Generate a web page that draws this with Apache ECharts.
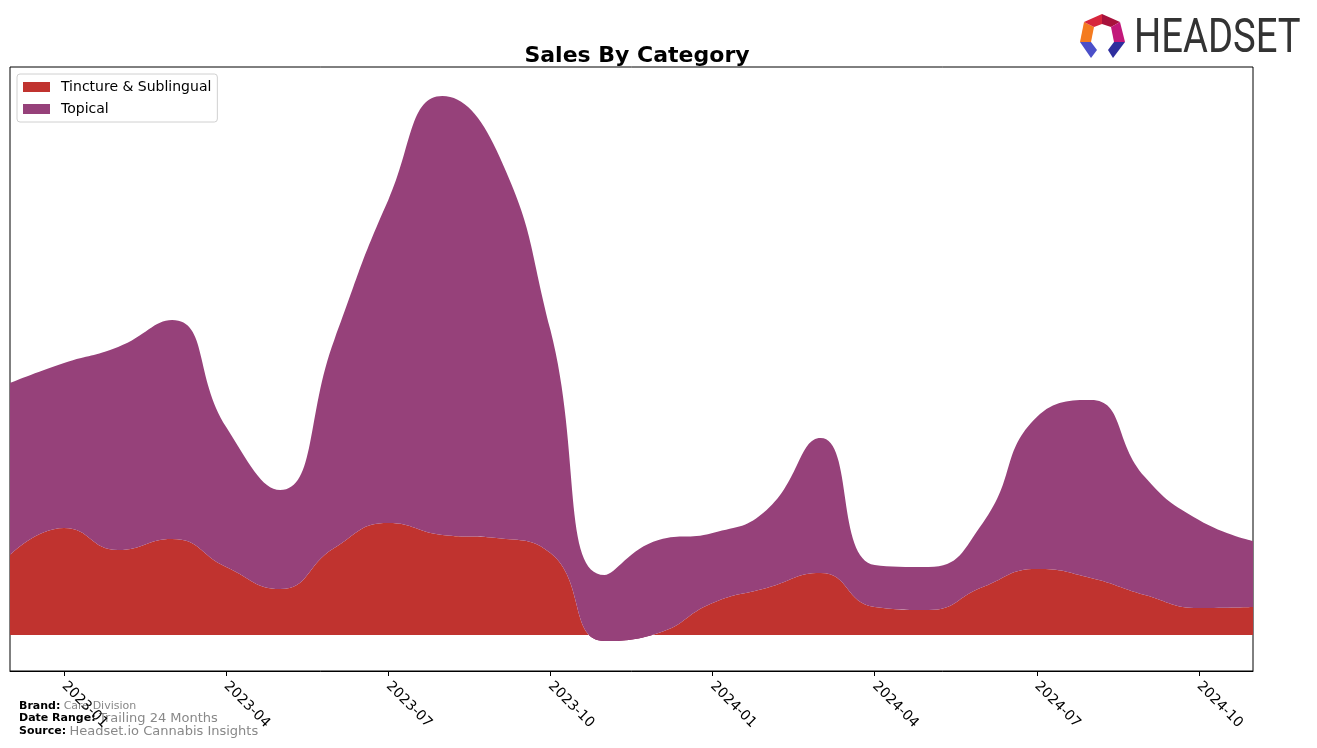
<!DOCTYPE html>
<html>
<head>
<meta charset="utf-8">
<script src="https://cdn.jsdelivr.net/npm/echarts@6/dist/echarts.min.js"></script>
<style>html,body{margin:0;padding:0;background:#fff;}#c{width:1317px;height:748px;}</style>
</head>
<body>
<div id="c"></div>
<script>
const months = ["2022-12","2023-01","2023-02","2023-03","2023-04","2023-05","2023-06","2023-07","2023-08","2023-09","2023-10","2023-11","2023-12","2024-01","2024-02","2024-03","2024-04","2024-05","2024-06","2024-07","2024-08","2024-09","2024-10","2024-11"];
const tinctureSublingual = [80,107,85,96,68,46,87,112,100,97,82,-6,2,32,47,62,28,25,48,66,57,40,27,28];
const topical = [172,165,203,219,140,99,208,323,439,388,223,66,93,70,78,135,42,43,64,152,178,118,88,66];
const tickMonths = ["2023-01","2023-04","2023-07","2023-10","2024-01","2024-04","2024-07","2024-10"];
const seriesNames = ["Tincture & Sublingual","Topical"];
const colors = ["#c0332f","#96417a","#8b1a4f"];

const chart = echarts.init(document.getElementById('c'), null, {renderer:'canvas'});
const showTick = (i, v) => tickMonths.indexOf(v) >= 0;
const F = 'DejaVu Sans';
chart.setOption({
  animation: false,
  backgroundColor: '#fff',
  title: {
    text: 'Sales By Category', left: 632, top: 40, textAlign: 'center',
    textStyle: {fontFamily: F, fontSize: 22, fontWeight: 'bold', color: '#000'}
  },
  legend: {
    orient: 'vertical', left: 17, top: 74,
    itemWidth: 27, itemHeight: 10, itemGap: 8,
    padding: [6, 6, 6, 6],
    borderColor: '#d0d0d0', borderWidth: 1, borderRadius: 3,
    backgroundColor: 'rgba(255,255,255,0.8)',
    textStyle: {fontFamily: F, fontSize: 14, color: '#000', padding: [0, 0, 0, 6]},
    data: seriesNames.map((n, i) => ({name: n, icon: 'rect', itemStyle: {color: colors[i]}}))
  },
  grid: {left: 10, right: 64, top: 67, bottom: 77, show: true, borderColor: '#000', borderWidth: 1, backgroundColor: 'transparent'},
  xAxis: {
    type: 'category', data: months, boundaryGap: false,
    axisLine: {show: true, onZero: false, lineStyle: {color: '#000', width: 1}},
    axisTick: {show: true, interval: showTick, length: 5, lineStyle: {color: '#000'}},
    axisLabel: {
      interval: showTick, rotate: -45, margin: 13,
      fontFamily: F, fontSize: 14, color: '#000'
    },
    splitLine: {show: false}
  },
  yAxis: {
    type: 'value', min: -36, max: 568,
    show: false, splitLine: {show: false}
  },
  series: [
    {
      name: seriesNames[0], type: 'line', stack: 'total', stackStrategy: 'all',
      data: tinctureSublingual, smooth: 0.5, symbol: 'none',
      lineStyle: {width: 0}, itemStyle: {color: colors[0]},
      areaStyle: {color: colors[0], opacity: 1}
    },
    {
      name: seriesNames[1], type: 'line', stack: 'total', stackStrategy: 'all',
      data: topical, smooth: 0.5, symbol: 'none',
      lineStyle: {width: 0}, itemStyle: {color: colors[1]},
      areaStyle: {color: colors[1], opacity: 1}
    }
  ],
  graphic: [
    {type: 'polygon', shape: {points: [[1080,42],[1084,22],[1094,27],[1091,42]]}, style: {fill: '#f47b20'}},
    {type: 'polygon', shape: {points: [[1084,22],[1102,14],[1102,24],[1094,27]]}, style: {fill: '#d7263d'}},
    {type: 'polygon', shape: {points: [[1102,14],[1120,22],[1111,27],[1102,24]]}, style: {fill: '#a8123c'}},
    {type: 'polygon', shape: {points: [[1120,22],[1125,42],[1114,42],[1111,27]]}, style: {fill: '#c2187a'}},
    {type: 'polygon', shape: {points: [[1080,42],[1091,42],[1097,50],[1091,58]]}, style: {fill: '#4b4fc9'}},
    {type: 'polygon', shape: {points: [[1114,42],[1125,42],[1113,58],[1108,50]]}, style: {fill: '#2e2e9e'}},
    {type: 'text', x: 1134, y: 15, scaleX: 0.78, style: {text: 'HEADSET', fontFamily: 'Roboto', fontSize: 49, fill: '#333', textVerticalAlign: 'top'}},
    {type: 'text', x: 19, y: 700, style: {
      text: '{b|Brand:} {g|Care Division}',
      rich: {b: {fontFamily: F, fontSize: 11, fontWeight: 'bold', fill: '#000'}, g: {fontFamily: F, fontSize: 11, fill: '#888'}}
    }},
    {type: 'text', x: 19, y: 712, style: {
      text: '{b|Date Range:} {g|Trailing 24 Months}',
      rich: {b: {fontFamily: F, fontSize: 11, fontWeight: 'bold', fill: '#000'}, g: {fontFamily: F, fontSize: 13, fill: '#888'}}
    }},
    {type: 'text', x: 19, y: 725, style: {
      text: '{b|Source:} {g|Headset.io Cannabis Insights}',
      rich: {b: {fontFamily: F, fontSize: 11, fontWeight: 'bold', fill: '#000'}, g: {fontFamily: F, fontSize: 13, fill: '#888'}}
    }}
  ]
});
// Darker shade for the part of the first layer below zero, split at the library's own zero line
const zeroY = chart.convertToPixel({yAxisIndex: 0}, 0);
const h = 748;
const f = zeroY / h;
chart.setOption({
  series: [{
    areaStyle: {
      color: new echarts.graphic.LinearGradient(0, 0, 0, h, [
        {offset: 0, color: colors[0]}, {offset: f, color: colors[0]},
        {offset: f, color: colors[2]}, {offset: 1, color: colors[2]}
      ], true),
      opacity: 1
    }
  }, {}]
});
</script>
</body>
</html>
